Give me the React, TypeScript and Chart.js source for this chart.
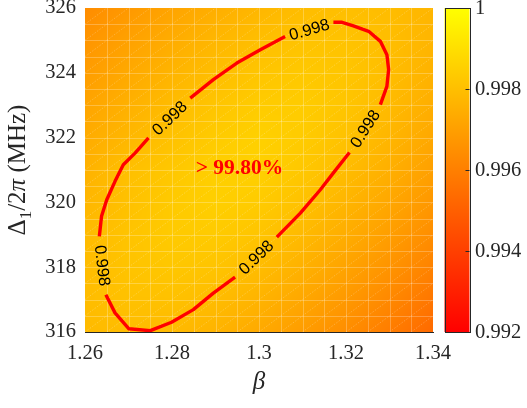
import React, { useEffect, useRef } from "react";
import { Chart, registerables } from "chart.js";

Chart.register(...registerables);

// ---------- data ----------
const betaGrid = [1.26, 1.27, 1.28, 1.29, 1.3, 1.31, 1.32, 1.33, 1.34];
const deltaGrid = [316, 317, 318, 319, 320, 321, 322, 323, 324, 325, 326];

const fid316 = [0.99785, 0.99791, 0.99783, 0.99763, 0.99732, 0.99691, 0.99644, 0.9959, 0.9953];
const fid317 = [0.99791, 0.99806, 0.99806, 0.9979, 0.99763, 0.99725, 0.9968, 0.99628, 0.9957];
const fid318 = [0.99791, 0.99814, 0.99824, 0.99815, 0.99791, 0.99756, 0.99713, 0.99664, 0.99608];
const fid319 = [0.99785, 0.99814, 0.99834, 0.99835, 0.99816, 0.99783, 0.99743, 0.99696, 0.99643];
const fid320 = [0.99773, 0.99806, 0.99834, 0.9985, 0.99837, 0.99807, 0.99769, 0.99725, 0.99674];
const fid321 = [0.99757, 0.99801, 0.99825, 0.9985, 0.99853, 0.99826, 0.99791, 0.9975, 0.99702];
const fid322 = [0.99738, 0.99775, 0.99808, 0.99837, 0.99854, 0.99838, 0.99808, 0.9977, 0.99726];
const fid323 = [0.99716, 0.99754, 0.99789, 0.99818, 0.99839, 0.99839, 0.99818, 0.99785, 0.99745];
const fid324 = [0.99692, 0.99731, 0.99766, 0.99796, 0.99819, 0.99829, 0.99819, 0.99794, 0.99759];
const fid325 = [0.99667, 0.99706, 0.99741, 0.99773, 0.99797, 0.99812, 0.99812, 0.99796, 0.99767];
const fid326 = [0.99639, 0.99679, 0.99715, 0.99747, 0.99773, 0.99792, 0.99798, 0.99791, 0.99769];
const fidelityRows = [fid316, fid317, fid318, fid319, fid320, fid321, fid322, fid323, fid324, fid325, fid326];

// simulation mesh spacing (faint mesh lines)
const meshStepBeta = 0.005;
const meshStepDelta = 0.5;

// contour at 0.998 (segments between the inline labels), [beta, delta]
const contourLevelLabel = "0.998";
const contourSegA: number[][] = [
  [1.3171, 325.56], [1.3191, 325.56], [1.3217, 325.45], [1.3252, 325.28], [1.3279, 324.97],
  [1.3294, 324.56], [1.3298, 324.1], [1.3294, 323.58], [1.3279, 323.02],
];
const contourSegB: number[][] = [
  [1.3208, 321.54], [1.3171, 320.91], [1.3141, 320.39], [1.3095, 319.67], [1.3041, 318.93],
];
const contourSegC: number[][] = [
  [1.2945, 317.69], [1.2895, 317.2], [1.2849, 316.69], [1.2799, 316.3], [1.275, 316.04],
  [1.2701, 316.1], [1.2669, 316.59], [1.2648, 317.15],
];
const contourSegD: number[][] = [
  [1.2633, 318.95], [1.2638, 319.57], [1.265, 320.08], [1.2669, 320.65], [1.2688, 321.16],
  [1.2715, 321.52], [1.2746, 321.99],
];
const contourSegE: number[][] = [
  [1.2842, 323.22], [1.2895, 323.79], [1.2949, 324.3], [1.3003, 324.71], [1.306, 325.12],
];
const contourSegments = [contourSegA, contourSegB, contourSegC, contourSegD, contourSegE];

const annotationText = "> 99.80%";
const annotationBeta = 1.2955;
const annotationDelta = 321.11;

const xTicks = [1.26, 1.28, 1.3, 1.32, 1.34];
const yTicks = [316, 318, 320, 322, 324, 326];
const cbTicks = [0.992, 0.994, 0.996, 0.998, 1];
const cbMin = 0.992;
const cbMax = 1;

// ---------- helpers ----------
const SERIF = "'Liberation Serif', 'Times New Roman', serif";
const SANS = "'Liberation Sans', Arial, sans-serif";
const AXIS_COLOR = "#262626";

function fidelityAt(b: number, d: number): number {
  const nx = betaGrid.length;
  const ny = deltaGrid.length;
  let fx = ((b - betaGrid[0]) / (betaGrid[nx - 1] - betaGrid[0])) * (nx - 1);
  let fy = ((d - deltaGrid[0]) / (deltaGrid[ny - 1] - deltaGrid[0])) * (ny - 1);
  fx = Math.max(0, Math.min(nx - 1, fx));
  fy = Math.max(0, Math.min(ny - 1, fy));
  const i = Math.min(nx - 2, Math.floor(fx));
  const j = Math.min(ny - 2, Math.floor(fy));
  const u = fx - i;
  const v = fy - j;
  const r0 = fidelityRows[j];
  const r1 = fidelityRows[j + 1];
  return (r0[i] * (1 - u) + r0[i + 1] * u) * (1 - v) + (r1[i] * (1 - u) + r1[i + 1] * u) * v;
}

function autumn(v: number): [number, number, number] {
  const t = Math.max(0, Math.min(1, (v - cbMin) / (cbMax - cbMin)));
  return [255, Math.round(255 * t), 0];
}

const heatmapPlugin = {
  id: "heatmap",
  beforeDatasetsDraw(chart: any) {
    const { ctx, chartArea, scales } = chart;
    const { left, top, right, bottom } = chartArea;
    const xs = scales.x;
    const ys = scales.y;
    const w = Math.round(right - left);
    const h = Math.round(bottom - top);
    const off = document.createElement("canvas");
    off.width = w;
    off.height = h;
    const octx = off.getContext("2d")!;
    const img = octx.createImageData(w, h);
    for (let py = 0; py < h; py++) {
      const d = ys.getValueForPixel(top + py + 0.5);
      for (let px = 0; px < w; px++) {
        const b = xs.getValueForPixel(left + px + 0.5);
        const [r, g, bl] = autumn(fidelityAt(b, d));
        const k = (py * w + px) * 4;
        img.data[k] = r;
        img.data[k + 1] = g;
        img.data[k + 2] = bl;
        img.data[k + 3] = 255;
      }
    }
    octx.putImageData(img, 0, 0);
    ctx.save();
    ctx.drawImage(off, left, top);

    ctx.beginPath();
    ctx.rect(left, top, right - left, bottom - top);
    ctx.clip();

    const bMin = betaGrid[0];
    const bMax = betaGrid[betaGrid.length - 1];
    const dMin = deltaGrid[0];
    const dMax = deltaGrid[deltaGrid.length - 1];
    const nB = Math.round((bMax - bMin) / meshStepBeta);
    const nD = Math.round((dMax - dMin) / meshStepDelta);

    // diagonal mesh lines
    ctx.strokeStyle = "rgba(255,255,255,0.28)";
    ctx.lineWidth = 0.8;
    ctx.setLineDash([1.5, 1.5]);
    ctx.beginPath();
    for (let k = 0; k < nB; k++) {
      for (let m = 0; m < nD; m++) {
        const x0 = xs.getPixelForValue(bMin + k * meshStepBeta);
        const x1 = xs.getPixelForValue(bMin + (k + 1) * meshStepBeta);
        const y0 = ys.getPixelForValue(dMin + m * meshStepDelta);
        const y1 = ys.getPixelForValue(dMin + (m + 1) * meshStepDelta);
        ctx.moveTo(x0, y0);
        ctx.lineTo(x1, y1);
      }
    }
    ctx.stroke();
    ctx.setLineDash([]);

    // straight mesh lines
    ctx.strokeStyle = "rgba(255,255,255,0.25)";
    ctx.lineWidth = 1;
    ctx.beginPath();
    for (let k = 1; k < nB; k++) {
      const px = Math.round(xs.getPixelForValue(bMin + k * meshStepBeta)) + 0.5;
      ctx.moveTo(px, top);
      ctx.lineTo(px, bottom);
    }
    for (let m = 1; m < nD; m++) {
      const py = Math.round(ys.getPixelForValue(dMin + m * meshStepDelta)) + 0.5;
      ctx.moveTo(left, py);
      ctx.lineTo(right, py);
    }
    ctx.stroke();
    ctx.restore();
  },
};

const overlayPlugin = {
  id: "overlay",
  afterDatasetsDraw(chart: any) {
    const { ctx, scales } = chart;
    const xs = scales.x;
    const ys = scales.y;
    ctx.save();
    // inline contour labels in the gaps between segments
    ctx.font = `16.5px ${SANS}`;
    ctx.fillStyle = "#000000";
    ctx.textAlign = "center";
    ctx.textBaseline = "middle";
    const n = contourSegments.length;
    for (let s = 0; s < n; s++) {
      const seg = contourSegments[s];
      const next = contourSegments[(s + 1) % n];
      const a = seg[seg.length - 1];
      const b = next[0];
      const ax = xs.getPixelForValue(a[0]);
      const ay = ys.getPixelForValue(a[1]);
      const bx = xs.getPixelForValue(b[0]);
      const by = ys.getPixelForValue(b[1]);
      let ang = Math.atan2(by - ay, bx - ax);
      if (ang > Math.PI / 2) ang -= Math.PI;
      if (ang < -Math.PI / 2) ang += Math.PI;
      ctx.save();
      ctx.translate((ax + bx) / 2, (ay + by) / 2);
      ctx.rotate(ang);
      ctx.fillText(contourLevelLabel, 0, 1);
      ctx.restore();
    }
    // annotation
    ctx.font = `bold 21.5px ${SERIF}`;
    ctx.fillStyle = "#ff0000";
    ctx.textBaseline = "alphabetic";
    ctx.fillText(annotationText, xs.getPixelForValue(annotationBeta), ys.getPixelForValue(annotationDelta) + 7.5);
    ctx.restore();
  },
  afterDraw(chart: any) {
    const { ctx, chartArea } = chart;
    const { left, top, right, bottom } = chartArea;
    ctx.save();

    // colorbar
    const cbLeft = right + 11.5;
    const cbRight = right + 36.5;
    const grad = ctx.createLinearGradient(0, bottom, 0, top);
    grad.addColorStop(0, "rgb(255,0,0)");
    grad.addColorStop(1, "rgb(255,255,0)");
    ctx.fillStyle = grad;
    ctx.fillRect(cbLeft, top, cbRight - cbLeft, bottom - top);
    ctx.strokeStyle = AXIS_COLOR;
    ctx.lineWidth = 1;
    ctx.strokeRect(Math.round(cbLeft) + 0.5, Math.round(top) + 0.5, Math.round(cbRight - cbLeft), Math.round(bottom - top));
    const cbPix = (v: number) => bottom - ((v - cbMin) / (cbMax - cbMin)) * (bottom - top);
    ctx.beginPath();
    for (const v of cbTicks) {
      const py = Math.round(cbPix(v)) + 0.5;
      ctx.moveTo(cbRight - 4, py);
      ctx.lineTo(cbRight, py);
    }
    ctx.stroke();
    ctx.font = `20.5px ${SERIF}`;
    ctx.fillStyle = AXIS_COLOR;
    ctx.textAlign = "left";
    ctx.textBaseline = "middle";
    for (const v of cbTicks) {
      const label = v === 1 ? "1" : v.toFixed(3);
      ctx.fillText(label, cbRight + 5.5, cbPix(v) + 1);
    }

    // x title
    ctx.font = `italic 25px ${SERIF}`;
    ctx.textAlign = "center";
    ctx.textBaseline = "alphabetic";
    ctx.fillText("β", (left + right) / 2, bottom + 57);

    // y title (rich text, rotated)
    const parts = [
      { t: "Δ", f: `25px ${SERIF}`, dy: 0 },
      { t: "1", f: `17px ${SERIF}`, dy: 6 },
      { t: "/2", f: `25px ${SERIF}`, dy: 0 },
      { t: "π", f: `italic 25px ${SERIF}`, dy: 0 },
      { t: " (MHz)", f: `25px ${SERIF}`, dy: 0 },
    ];
    let total = 0;
    const widths: number[] = [];
    for (const p of parts) {
      ctx.font = p.f;
      const w = ctx.measureText(p.t).width;
      widths.push(w);
      total += w;
    }
    ctx.translate(25, (top + bottom) / 2);
    ctx.rotate(-Math.PI / 2);
    ctx.textAlign = "left";
    let cx = -total / 2;
    parts.forEach((p, i) => {
      ctx.font = p.f;
      ctx.fillText(p.t, cx, p.dy);
      cx += widths[i];
    });
    ctx.restore();
  },
};

function buildContourData() {
  const pts: { x: number; y: number | null }[] = [];
  contourSegments.forEach((seg, s) => {
    if (s > 0) {
      const prev = contourSegments[s - 1];
      pts.push({ x: (prev[prev.length - 1][0] + seg[0][0]) / 2, y: null });
    }
    for (const p of seg) pts.push({ x: p[0], y: p[1] });
  });
  return pts;
}

export default function App() {
  const ref = useRef<HTMLCanvasElement>(null);
  useEffect(() => {
    const canvas = ref.current!;
    const chart = new Chart(canvas, {
      type: "line",
      data: {
        datasets: [
          {
            data: buildContourData() as any,
            borderColor: "#ff0000",
            borderWidth: 3.4,
            pointRadius: 0,
            spanGaps: false,
            tension: 0,
            borderJoinStyle: "round",
            borderCapStyle: "butt",
          },
        ],
      },
      options: {
        animation: false,
        responsive: false,
        events: [],
        layout: { padding: { top: 8, right: 94, left: 0, bottom: 0 } },
        plugins: { legend: { display: false }, tooltip: { enabled: false } },
        scales: {
          x: {
            type: "linear",
            min: betaGrid[0],
            max: betaGrid[betaGrid.length - 1],
            grid: { display: false, drawTicks: false },
            border: { display: true, color: AXIS_COLOR, width: 1 },
            afterBuildTicks: (s: any) => {
              s.ticks = xTicks.map((v) => ({ value: v }));
            },
            afterFit: (s: any) => {
              s.height = 76;
              s.paddingLeft = 0;
              s.paddingRight = 0;
            },
            ticks: {
              autoSkip: false,
              maxRotation: 0,
              padding: 9,
              color: AXIS_COLOR,
              font: { family: SERIF, size: 20.5 },
              callback: (v: any) => String(v),
            },
          },
          y: {
            type: "linear",
            min: deltaGrid[0],
            max: deltaGrid[deltaGrid.length - 1],
            grid: { display: false, drawTicks: false },
            border: { display: true, color: AXIS_COLOR, width: 1 },
            afterBuildTicks: (s: any) => {
              s.ticks = yTicks.map((v) => ({ value: v }));
            },
            afterFit: (s: any) => {
              s.width = 85;
              s.paddingTop = 0;
              s.paddingBottom = 0;
            },
            ticks: {
              autoSkip: false,
              padding: 9,
              color: AXIS_COLOR,
              font: { family: SERIF, size: 20.5 },
              callback: (v: any) => String(v),
            },
          },
        },
      },
      plugins: [heatmapPlugin, overlayPlugin],
    } as any);
    return () => chart.destroy();
  }, []);
  return (
    <div style={{ position: "absolute", left: 0, top: 0, width: 527, height: 408, background: "#ffffff" }}>
      <canvas ref={ref} width={527} height={408} style={{ display: "block", width: 527, height: 408 }} />
    </div>
  );
}
